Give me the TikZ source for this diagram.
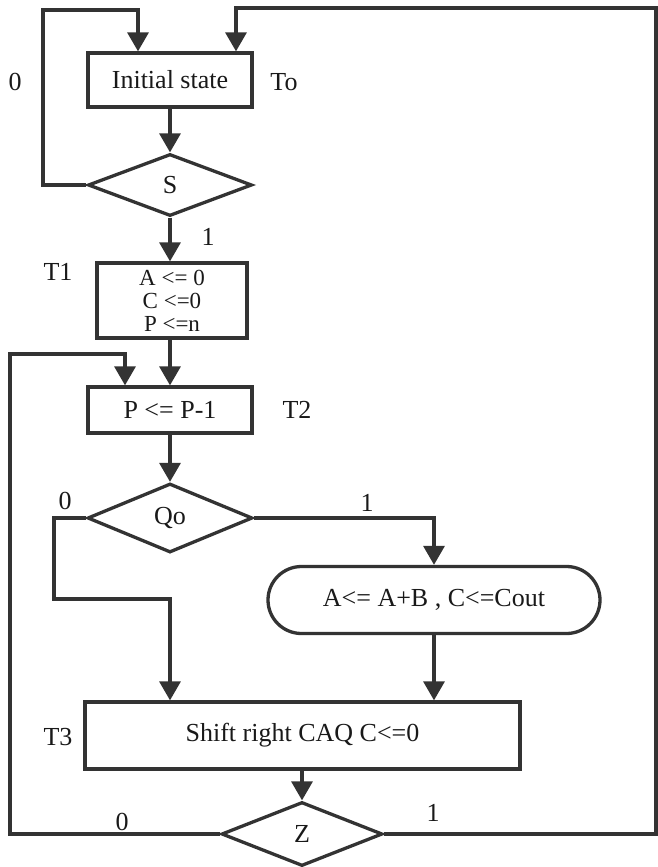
\documentclass[tikz,border=0pt]{standalone}
\usepackage{fontspec}
\setmainfont{Liberation Serif}
\usetikzlibrary{shapes.geometric,shapes.misc,arrows.meta}
\definecolor{ink}{HTML}{333333}
\begin{document}
\begin{tikzpicture}[x=1bp,y=-1bp,
  line width=3.3bp, ink,
  every node/.style={font=\fontsize{26bp}{22.5bp}\selectfont, text=black!90},
  box/.style={draw=ink, rectangle, inner sep=0pt, align=center},
  dec/.style={draw=ink, diamond, inner sep=0pt},
  pill/.style={draw=ink, rounded rectangle, inner sep=0pt},
  flow/.style={draw=ink, -{Triangle[length=19bp,width=21bp]}},
  lab/.style={inner sep=0pt}]
\useasboundingbox (0,0) rectangle (658,867);

% blocks
\node[box, minimum width=164bp, minimum height=54bp] (init) at (170,80) {Initial state};
\node[dec, minimum width=164bp, minimum height=62bp] (S) at (170,185) {S};
\node[box, minimum width=150bp, minimum height=75bp, font=\fontsize{23bp}{23bp}\selectfont] (T1) at (172,300.5) {A <= 0\\C <=0\\P <=n};
\node[box, minimum width=164bp, minimum height=46bp] (P) at (170,410) {P <= P-1};
\node[dec, minimum width=165bp, minimum height=69bp] (Q) at (170,518) {Qo};
\node[pill, minimum width=332bp, minimum height=67bp] (add) at (434,600) {A<= A+B , C<=Cout};
\node[box, minimum width=435bp, minimum height=67bp] (T3) at (302.5,735.5) {Shift right CAQ C<=0};
\node[dec, minimum width=161bp, minimum height=64bp] (Z) at (302,834) {Z};

% labels
\node[lab] (l0a) at (15,82) {0};
\node[lab] (lTo) at (284,82) {To};
\node[lab] (l1a) at (208,237) {1};
\node[lab] (lT1) at (58,272) {T1};
\node[lab] (lT2) at (297,410) {T2};
\node[lab] (l0b) at (65,501) {0};
\node[lab] (l1b) at (367,503) {1};
\node[lab] (lT3) at (58,737) {T3};
\node[lab] (l0c) at (122,822) {0};
\node[lab] (l1c) at (433,813) {1};

% helper coordinates
\coordinate (sL) at (43,10);
\coordinate (sT) at (138,10);
\coordinate (rC) at (656,8);
\coordinate (rT) at (236,8);
\coordinate (cL) at (10,354);
\coordinate (pL) at (125,354);
\coordinate (q0) at (54,599);

% connectors
\draw[flow] (init.south) -- (S.north);
\draw[flow] (S.south) -- (S.south |- T1.north);
\draw[flow] (P.north |- T1.south) -- (P.north);
\draw[flow] (P.south) -- (Q.north);
\draw[flow] (Q.east) -| (add.north);
\draw[flow] (Q.west) -| (q0) -| (P.south |- T3.north);
\draw[flow] (add.south) -- (add.south |- T3.north);
\draw[flow] (Z.north |- T3.south) -- (Z.north);
\draw[flow] (S.west) -| (sL) -- (sT) -- (sT |- init.north);
\draw[flow] (Z.east) -| (rC) -- (rT) -- (rT |- init.north);
\draw[flow] (Z.west) -| (cL) -- (pL) -- (pL |- P.north);
\end{tikzpicture}
\end{document}
